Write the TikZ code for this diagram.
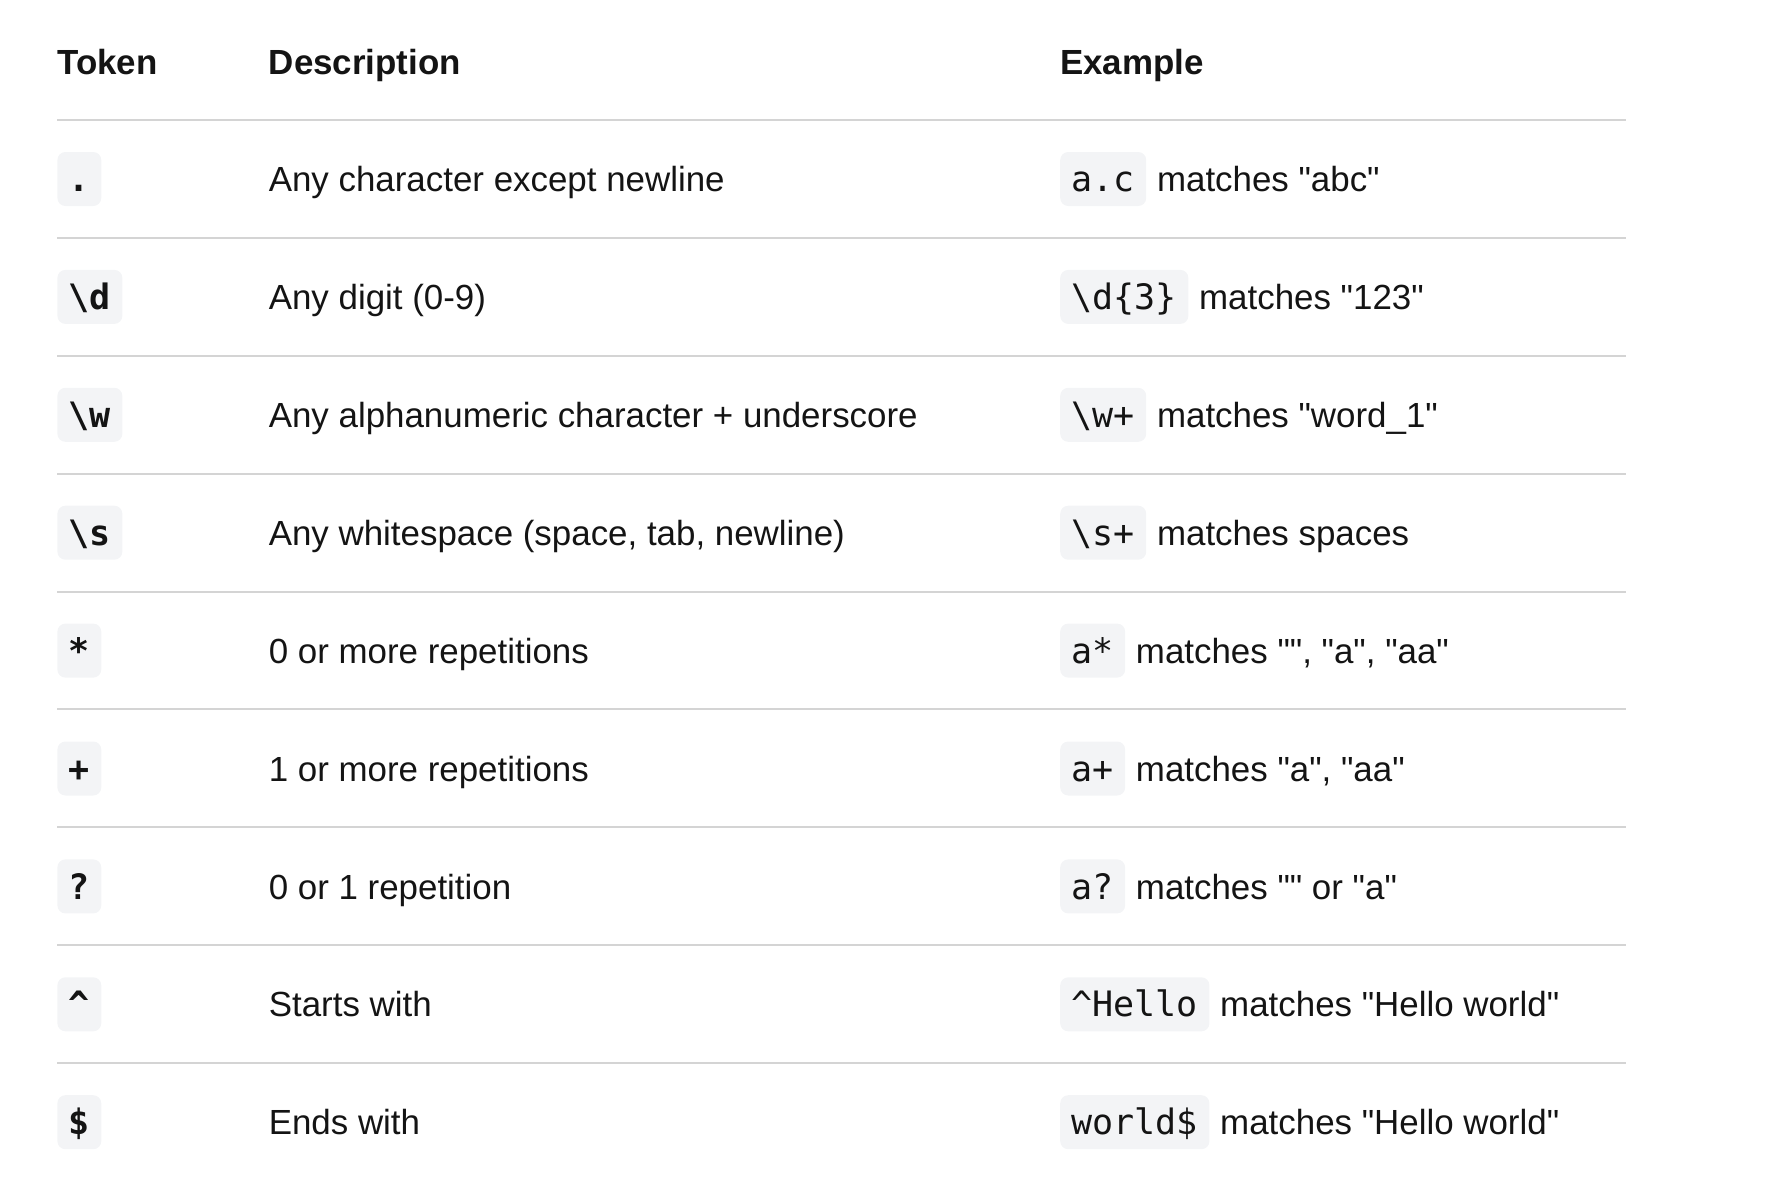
\documentclass[tikz,border=0pt]{standalone}
\usepackage{fontspec}
\setmainfont{Liberation Sans}[Ligatures=TeXOff]
\setmonofont{DejaVu Sans Mono}
\definecolor{rulecol}{HTML}{D4D4D4}
\definecolor{codebg}{HTML}{F3F4F6}
\definecolor{ink}{HTML}{141414}
\tikzset{
  cell/.style={anchor=base west, inner sep=0pt, text=ink, font=\fontsize{17.45pt}{20pt}\selectfont},
  head/.style={cell, font=\fontsize{17.45pt}{20pt}\selectfont\bfseries},
  codebox/.style={anchor=base west, fill=codebg, rounded corners=4pt, inner xsep=5.7pt, inner ysep=0pt,
     text height=19.8pt, text depth=7.2pt, text=ink, font=\fontsize{17.5pt}{20pt}\selectfont\ttfamily},
  tokbox/.style={codebox, font=\fontsize{17.5pt}{20pt}\selectfont\ttfamily\bfseries},
  tablerule/.style={draw=rulecol, line width=1pt}
}
\begin{document}
\begin{tikzpicture}[x=0.5pt,y=-0.5pt]
\useasboundingbox (0,0) rectangle (1790,1184);
% headers
\node[head] (hTok)  at (57,74.5)    {Token};
\node[head] (hDesc) at (268.4,74.5) {Description};
\node[head] (hEx)   at (1059.8,74.5) {Example};
% rules
\foreach \i in {0,...,8} {
  \pgfmathsetmacro{\ly}{119.9+117.9*\i}
  \draw[tablerule] (57,\ly) -- (1626,\ly);
}
% rows
\foreach \i/\tok/\desc/\code/\ex in {
  1/./Any character except newline/a.c/matches "abc",
  2/\textbackslash d/Any digit (0-9)/\textbackslash d\{3\}/matches "123",
  3/\textbackslash w/Any alphanumeric character + underscore/\textbackslash w+/matches "word\_1",
  4/\textbackslash s/{Any whitespace (space, tab, newline)}/\textbackslash s+/matches spaces,
  5/*/0 or more repetitions/a*/{matches "", "a", "aa"},
  6/+/1 or more repetitions/a+/{matches "a", "aa"},
  7/?/0 or 1 repetition/a?/matches "" or "a",
  8/\textasciicircum/Starts with/\textasciicircum Hello/matches "Hello world",
  9/\$/Ends with/world\$/matches "Hello world"} {
  \pgfmathsetmacro{\by}{119.9+117.9*(\i-1)+59+12.7}
  \node[tokbox] (tok\i) at (57,\by) {\tok};
  \node[cell] (desc\i) at (268.4,\by) {\desc};
  \node[codebox] (code\i) at (1059.8,\by) {\code};
  \node[cell, anchor=base west] (ex\i) at ([xshift=5pt]code\i.base east) {\ex};
}
\end{tikzpicture}
\end{document}
